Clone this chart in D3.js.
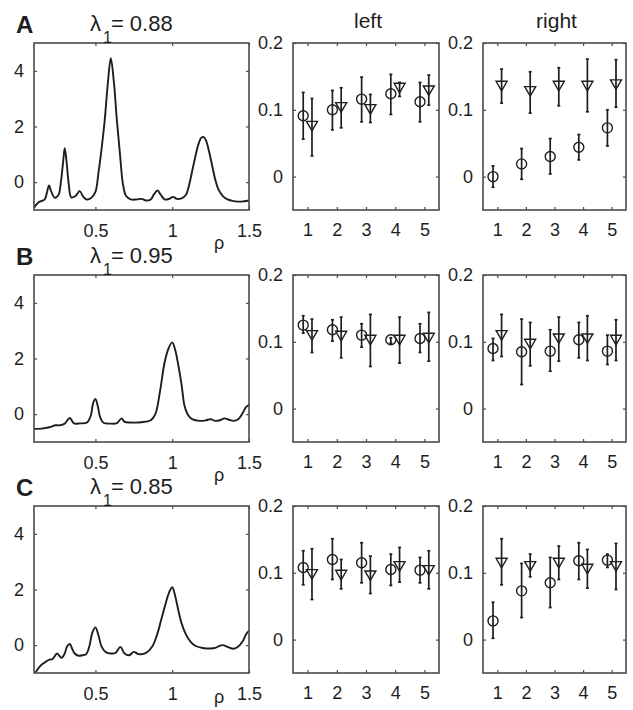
<!DOCTYPE html>
<html>
<head>
<meta charset="utf-8">
<script src="https://cdn.jsdelivr.net/npm/d3@7"></script>
<style>
  body { margin: 0; background: #fff; }
  text, tspan { font-family: "Liberation Sans", Arial, sans-serif; fill: #1e1e1e; }
</style>
</head>
<body>
<svg id="fig" width="633" height="710"></svg>
<script>
// panel labels and titles
const rowLabels = ["A", "B", "C"];
const lambdas = ["0.88", "0.95", "0.85"];
const colTitles = ["left", "right"];

// tick values
const rhoTicks = [0.5, 1, 1.5];
const powTicks = [0, 2, 4];
const condTicks = [1, 2, 3, 4, 5];
const rateTicks = [0, 0.1, 0.2];

// spectra (rho, power)
const rhoA = [0.10, 0.13, 0.17, 0.185, 0.198, 0.21, 0.235, 0.26, 0.275, 0.29, 0.30, 0.31, 0.325, 0.343, 0.37, 0.398, 0.42, 0.44, 0.47, 0.50, 0.52, 0.54, 0.56, 0.58, 0.60, 0.62, 0.64, 0.66, 0.68, 0.70, 0.73, 0.77, 0.80, 0.83, 0.86, 0.88, 0.904, 0.925, 0.95, 0.98, 1.006, 1.03, 1.06, 1.09, 1.11, 1.13, 1.15, 1.17, 1.19, 1.205, 1.22, 1.24, 1.26, 1.28, 1.30, 1.33, 1.36, 1.40, 1.45, 1.50];
const powA = [-0.92, -0.72, -0.62, -0.35, -0.12, -0.30, -0.56, -0.45, 0.0, 0.75, 1.22, 0.85, 0.0, -0.55, -0.50, -0.32, -0.52, -0.62, -0.58, -0.35, 0.35, 1.2, 2.2, 3.5, 4.45, 3.6, 2.2, 1.0, -0.1, -0.5, -0.62, -0.62, -0.60, -0.66, -0.62, -0.45, -0.30, -0.45, -0.62, -0.60, -0.53, -0.60, -0.58, -0.45, -0.1, 0.4, 0.9, 1.35, 1.6, 1.62, 1.5, 1.1, 0.6, 0.1, -0.25, -0.50, -0.62, -0.68, -0.70, -0.66];

const rhoB = [0.10, 0.15, 0.20, 0.24, 0.27, 0.30, 0.333, 0.36, 0.40, 0.445, 0.47, 0.485, 0.50, 0.515, 0.53, 0.55, 0.60, 0.64, 0.67, 0.69, 0.73, 0.80, 0.86, 0.89, 0.92, 0.95, 0.975, 1.00, 1.02, 1.04, 1.06, 1.08, 1.10, 1.13, 1.18, 1.22, 1.25, 1.28, 1.31, 1.34, 1.37, 1.40, 1.43, 1.46, 1.48, 1.50];
const powB = [-0.53, -0.52, -0.47, -0.40, -0.40, -0.34, -0.14, -0.33, -0.33, -0.30, -0.05, 0.40, 0.55, 0.30, -0.10, -0.30, -0.34, -0.32, -0.15, -0.28, -0.30, -0.29, -0.22, 0.0, 0.8, 1.85, 2.35, 2.58, 2.3, 1.75, 1.1, 0.3, 0.0, -0.18, -0.24, -0.22, -0.18, -0.24, -0.22, -0.15, -0.20, -0.24, -0.18, 0.05, 0.25, 0.34];

const rhoC = [0.11, 0.14, 0.17, 0.20, 0.22, 0.25, 0.265, 0.28, 0.30, 0.315, 0.333, 0.35, 0.365, 0.39, 0.42, 0.44, 0.46, 0.48, 0.50, 0.52, 0.54, 0.57, 0.60, 0.63, 0.663, 0.69, 0.72, 0.75, 0.78, 0.83, 0.87, 0.90, 0.93, 0.96, 0.98, 1.00, 1.02, 1.04, 1.06, 1.09, 1.12, 1.15, 1.20, 1.25, 1.28, 1.31, 1.33, 1.36, 1.40, 1.43, 1.46, 1.48, 1.50];
const powC = [-0.98, -0.75, -0.62, -0.52, -0.50, -0.30, -0.38, -0.45, -0.30, -0.05, 0.04, -0.15, -0.30, -0.38, -0.36, -0.32, -0.05, 0.45, 0.64, 0.35, -0.05, -0.26, -0.30, -0.28, -0.06, -0.30, -0.36, -0.24, -0.32, -0.28, -0.05, 0.35, 0.95, 1.55, 1.9, 2.08, 1.75, 1.25, 0.8, 0.38, 0.12, -0.02, -0.10, -0.12, -0.10, -0.02, 0.0, -0.06, -0.13, -0.05, 0.15, 0.38, 0.52];

// error bar data: [mean, low, high] per condition 1..5
const leftCircA = [[0.091, 0.056, 0.126], [0.100, 0.070, 0.129], [0.116, 0.082, 0.149], [0.124, 0.093, 0.153], [0.112, 0.082, 0.141]];
const leftTriA = [[0.076, 0.031, 0.117], [0.104, 0.073, 0.133], [0.101, 0.081, 0.123], [0.133, 0.120, 0.141], [0.129, 0.107, 0.152]];
const rightCircA = [[0.000, -0.016, 0.016], [0.019, -0.004, 0.042], [0.030, 0.004, 0.057], [0.044, 0.025, 0.063], [0.073, 0.046, 0.100]];
const rightTriA = [[0.136, 0.110, 0.161], [0.128, 0.095, 0.157], [0.136, 0.106, 0.163], [0.136, 0.097, 0.176], [0.138, 0.104, 0.175]];

const leftCircB = [[0.125, 0.113, 0.139], [0.118, 0.101, 0.133], [0.110, 0.092, 0.127], [0.103, 0.098, 0.106], [0.105, 0.084, 0.127]];
const leftTriB = [[0.110, 0.084, 0.134], [0.109, 0.076, 0.137], [0.103, 0.063, 0.141], [0.103, 0.068, 0.137], [0.106, 0.071, 0.144]];
const rightCircB = [[0.090, 0.072, 0.105], [0.085, 0.036, 0.134], [0.086, 0.056, 0.118], [0.103, 0.076, 0.129], [0.086, 0.066, 0.110]];
const rightTriB = [[0.110, 0.078, 0.141], [0.097, 0.064, 0.129], [0.105, 0.071, 0.137], [0.105, 0.072, 0.139], [0.103, 0.072, 0.133]];

const leftCircC = [[0.108, 0.082, 0.133], [0.120, 0.090, 0.151], [0.115, 0.085, 0.145], [0.105, 0.081, 0.128], [0.104, 0.085, 0.123]];
const leftTriC = [[0.098, 0.060, 0.136], [0.097, 0.076, 0.120], [0.096, 0.069, 0.125], [0.110, 0.086, 0.138], [0.104, 0.076, 0.133]];
const rightCircC = [[0.028, 0.002, 0.056], [0.073, 0.033, 0.114], [0.085, 0.048, 0.123], [0.118, 0.090, 0.145], [0.119, 0.108, 0.128]];
const rightTriC = [[0.115, 0.082, 0.151], [0.110, 0.094, 0.128], [0.115, 0.090, 0.140], [0.106, 0.077, 0.135], [0.110, 0.075, 0.144]];

const spectra = [[rhoA, powA], [rhoB, powB], [rhoC, powC]];
const errs = [
  [[leftCircA, leftTriA], [rightCircA, rightTriA]],
  [[leftCircB, leftTriB], [rightCircB, rightTriB]],
  [[leftCircC, leftTriC], [rightCircC, rightTriC]]
];

// layout
const rowTop = [43, 275, 506];
const rowH = 167;
const specBox = { x: 34, w: 215 };
const errBoxes = [{ x: 293, w: 146 }, { x: 483, w: 143 }];
const ink = "#1e1e1e";
const boxInk = "#4a4a4a";
const fs = 18;

const svg = d3.select("#fig");

function styleAxis(g) {
  g.select(".domain").remove();
  g.selectAll(".tick line").attr("stroke", boxInk).attr("stroke-width", 1.2);
  g.selectAll(".tick text").attr("font-size", fs).attr("fill", ink)
    .attr("font-family", '"Liberation Sans", Arial, sans-serif');
}

function frame(g, x, y, w, h, xt, yt, xpad, xfmt, yfmt) {
  g.append("g").attr("transform", `translate(0,${h})`)
    .call(d3.axisBottom(x).tickValues(xt).tickSize(-3).tickPadding(xpad).tickFormat(xfmt))
    .call(styleAxis);
  g.append("g")
    .call(d3.axisTop(x).tickValues(xt).tickSize(-3).tickFormat(""))
    .call(styleAxis);
  g.append("g")
    .call(d3.axisLeft(y).tickValues(yt).tickSize(-3).tickPadding(10).tickFormat(yfmt))
    .call(styleAxis);
  g.append("g").attr("transform", `translate(${w},0)`)
    .call(d3.axisRight(y).tickValues(yt).tickSize(-3).tickFormat(""))
    .call(styleAxis);
  g.append("rect").attr("width", w).attr("height", h)
    .attr("fill", "none").attr("stroke", boxInk).attr("stroke-width", 1.6);
}

const fmtRho = d => d === 1 ? "1" : d3.format(".1f")(d);
const fmtRate = d => d === 0 ? "0" : d3.format(".1f")(d);

rowTop.forEach((top, r) => {
  // spectrum panel
  const g = svg.append("g").attr("transform", `translate(${specBox.x},${top})`);
  const x = d3.scaleLinear().domain([0.1, 1.5]).range([0, specBox.w]);
  const y = d3.scaleLinear().domain([-1, 5]).range([rowH, 0]);
  const [rho, pow] = spectra[r];
  g.append("path")
    .datum(d3.zip(rho, pow))
    .attr("fill", "none").attr("stroke", ink).attr("stroke-width", 1.9)
    .attr("stroke-linejoin", "round")
    .attr("d", d3.line().x(d => x(d[0])).y(d => y(d[1])).curve(d3.curveCatmullRom.alpha(0.5)));
  frame(g, x, y, specBox.w, rowH, rhoTicks, powTicks, 14, fmtRho, d3.format("d"));

  svg.append("text").attr("x", 219).attr("y", Math.min(top + rowH + 39, 703))
    .attr("font-size", fs).attr("text-anchor", "middle").text("ρ");

  svg.append("text").attr("x", 16).attr("y", top - 10)
    .attr("font-size", 24).attr("font-weight", "bold").text(rowLabels[r]);

  const t = svg.append("text").attr("x", 90).attr("y", top - 12).attr("font-size", 22);
  t.append("tspan").text("λ");
  t.append("tspan").attr("font-size", 16).attr("dx", 2).attr("dy", 12).text("1");
  t.append("tspan").attr("dx", -1).attr("dy", -12).text("= " + lambdas[r]);

  // error bar panels
  errBoxes.forEach((b, c) => {
    const eg = svg.append("g").attr("transform", `translate(${b.x},${top})`);
    const ex = d3.scaleLinear().domain([0.5, 5.5]).range([0, b.w]);
    const ey = d3.scaleLinear().domain([-0.05, 0.2]).range([rowH, 0]);
    frame(eg, ex, ey, b.w, rowH, condTicks, rateTicks, 13, d3.format("d"), fmtRate);

    const [circ, tri] = errs[r][c];
    const series = [
      { vals: circ, off: -0.15, shape: "circle" },
      { vals: tri, off: 0.15, shape: "tri" }
    ];
    series.forEach(s => {
      const grp = eg.append("g").selectAll("g").data(s.vals).join("g")
        .attr("transform", (d, i) => `translate(${ex(i + 1 + s.off)},0)`);
      grp.append("line")
        .attr("y1", d => ey(d[1])).attr("y2", d => ey(d[2]))
        .attr("stroke", ink).attr("stroke-width", 1.7);
      grp.append("line").attr("x1", -1.5).attr("x2", 1.5)
        .attr("y1", d => ey(d[1])).attr("y2", d => ey(d[1]))
        .attr("stroke", ink).attr("stroke-width", 1.7);
      grp.append("line").attr("x1", -1.5).attr("x2", 1.5)
        .attr("y1", d => ey(d[2])).attr("y2", d => ey(d[2]))
        .attr("stroke", ink).attr("stroke-width", 1.7);
      if (s.shape === "circle") {
        grp.append("circle").attr("cy", d => ey(d[0])).attr("r", 5)
          .attr("fill", "none").attr("stroke", ink).attr("stroke-width", 1.4);
      } else {
        grp.append("path")
          .attr("transform", d => `translate(0,${ey(d[0])})`)
          .attr("d", "M-5.5,-4.5L5.5,-4.5L0,5Z")
          .attr("fill", "none").attr("stroke", ink).attr("stroke-width", 1.4);
      }
    });

    if (r === 0) {
      svg.append("text").attr("x", b.x + b.w / 2 + 2).attr("y", 28)
        .attr("font-size", 21).attr("text-anchor", "middle").text(colTitles[c]);
    }
  });
});
</script>
</body>
</html>
